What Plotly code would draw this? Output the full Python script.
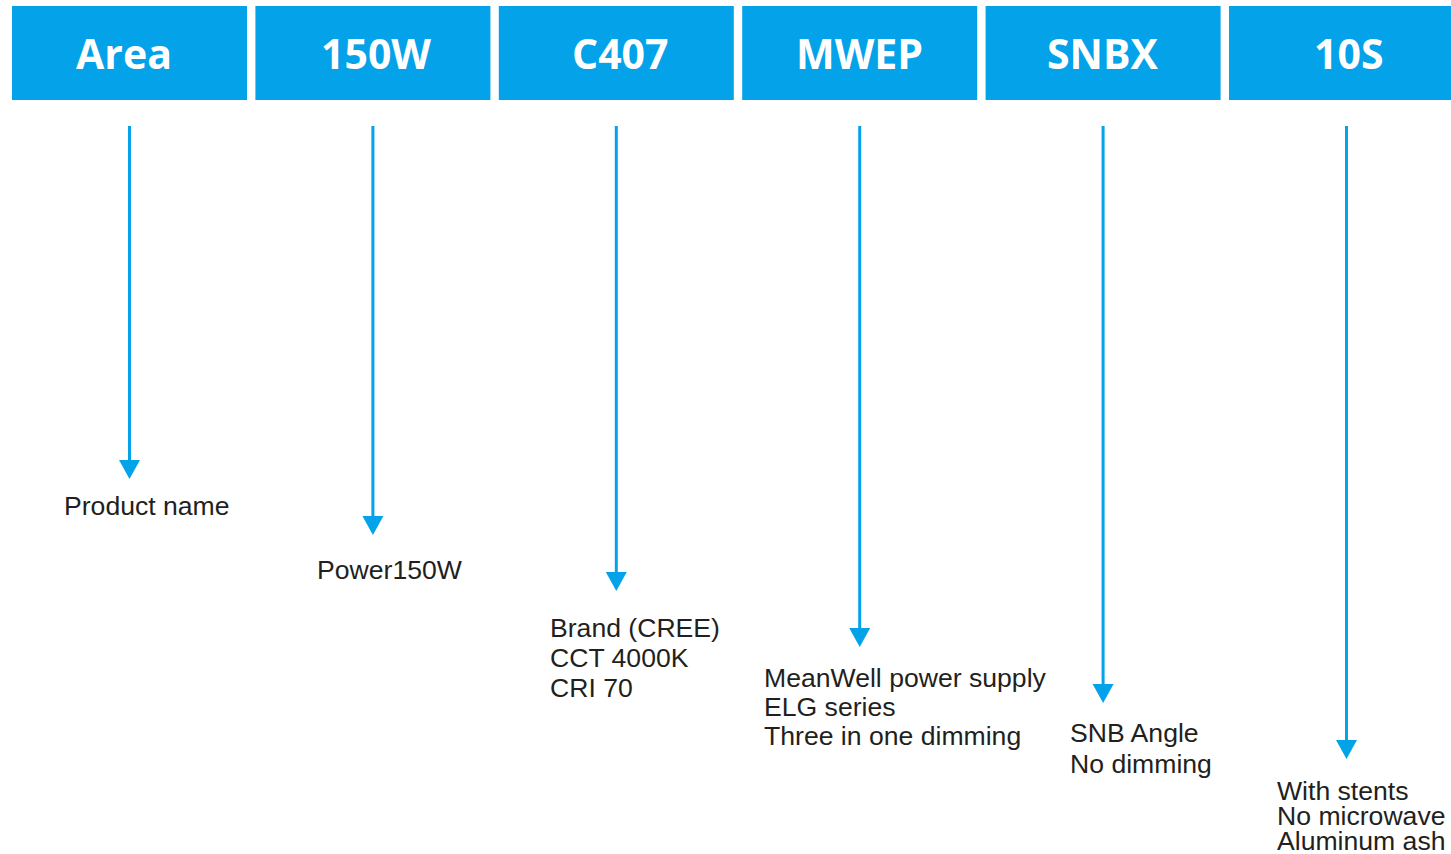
import plotly.graph_objects as go

# ---- data ----
codes = ["Area", "150W", "C407", "MWEP", "SNBX", "10S"]
descriptions = [
    ["Product name"],
    ["Power150W"],
    ["Brand (CREE)", "CCT 4000K", "CRI 70"],
    ["MeanWell power supply", "ELG series", "Three in one dimming"],
    ["SNB Angle", "No dimming"],
    ["With stents", "No microwave", "Aluminum ash"],
]

# ---- layout constants (pixel space) ----
W, H = 1451, 854
BLUE = "#04A2E9"
TEXT = "#231F20"
box_left0, box_pitch, box_w = 12, 243.4, 235
box_top, box_bot = 6, 100
header_dx = [-6, 3.5, 4, 0, -1, 1.5]
line_top = 126
tip0, tip_step = 479, 56
head_h, head_w = 19, 21
text_dx = [-65, -55, -65, -95, -32, -69]
text_dy = [27, 35, 37, 31, 30, 32]
line_gap = [30, 30, 30, 29, 31, 25]

fig = go.Figure()
shapes, annotations = [], []
for i, code in enumerate(codes):
    x0 = box_left0 + i * box_pitch
    cx = x0 + box_w / 2
    shapes.append(dict(type="rect", x0=x0, x1=min(x0 + box_w, W), y0=box_top, y1=box_bot,
                       fillcolor=BLUE, line=dict(width=0), layer="below"))
    annotations.append(dict(x=cx + header_dx[i], y=(box_top + box_bot) / 2, text=f"<b>{code}</b>",
                            showarrow=False, xanchor="center", yanchor="middle",
                            font=dict(family="Open Sans", size=41, color="white")))
    tip = tip0 + i * tip_step
    shapes.append(dict(type="line", x0=cx, x1=cx, y0=line_top, y1=tip - head_h + 2,
                       line=dict(color=BLUE, width=3)))
    shapes.append(dict(type="path",
                       path=f"M {cx - head_w/2} {tip - head_h} L {cx + head_w/2} {tip - head_h} L {cx} {tip} Z",
                       fillcolor=BLUE, line=dict(width=0)))
    for j, ln in enumerate(descriptions[i]):
        annotations.append(dict(x=cx + text_dx[i], y=tip + text_dy[i] + j * line_gap[i],
                                text=ln, showarrow=False, xanchor="left", yanchor="middle",
                                xshift=-3,
                                font=dict(family="Liberation Sans", size=26.6, color=TEXT)))

fig.add_trace(go.Scatter(x=[0, W], y=[0, H], mode="markers", marker=dict(opacity=0),
                         hoverinfo="skip", showlegend=False))
fig.update_layout(
    width=W, height=H, margin=dict(l=0, r=0, t=0, b=0),
    paper_bgcolor="white", plot_bgcolor="white",
    xaxis=dict(range=[0, W], visible=False, fixedrange=True),
    yaxis=dict(range=[H, 0], visible=False, fixedrange=True),
    shapes=shapes, annotations=annotations,
)
fig.write_html("out.html", config={"displayModeBar": False},
               post_script="document.body.style.margin='0px';document.body.style.overflow='hidden';")
